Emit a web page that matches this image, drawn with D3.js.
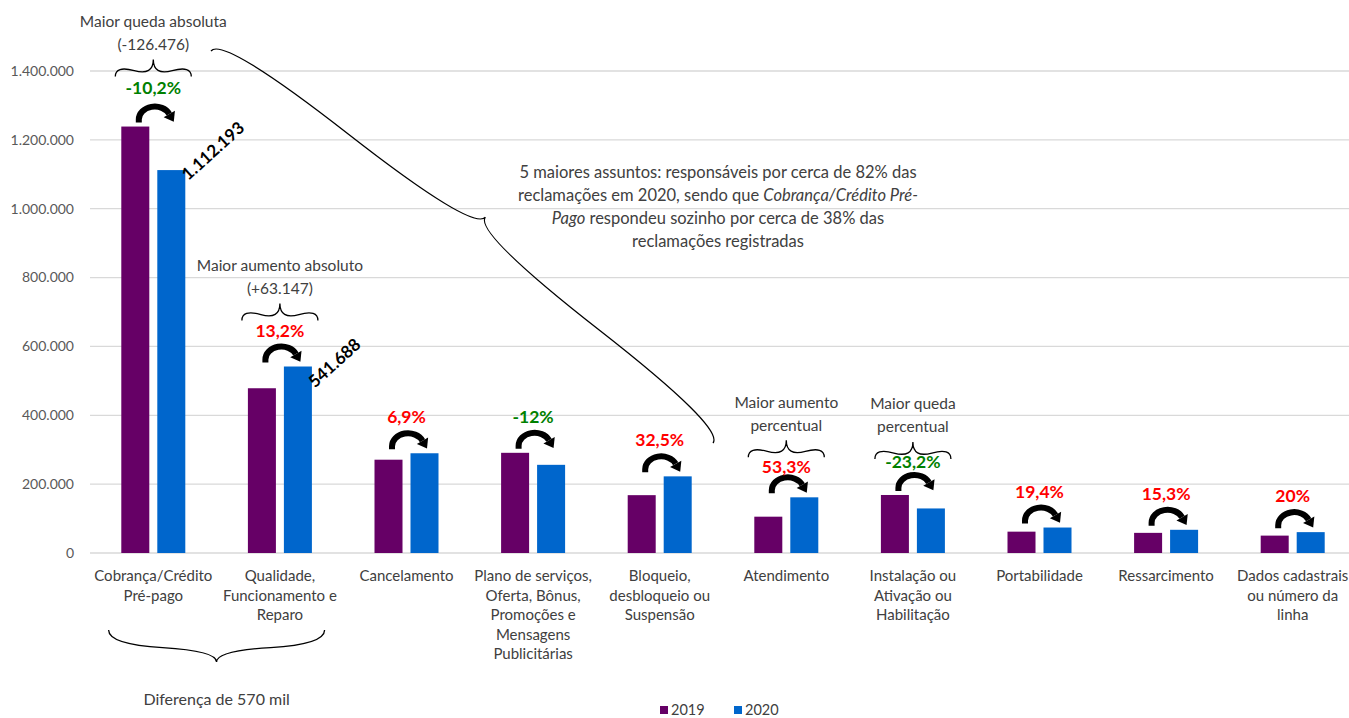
<!DOCTYPE html>
<html>
<head>
<meta charset="utf-8">
<script src="https://cdn.jsdelivr.net/npm/d3@7"></script>
<style>
  body { margin: 0; background: #fff; }
  svg { display: block; font-family: Lato, Carlito, Calibri, sans-serif; }
</style>
</head>
<body>
<div id="container"></div>
<script>
// 1. Datos

const categories = [
  "Cobrança/Crédito Pré-pago", "Qualidade, Funcionamento e Reparo", "Cancelamento",
  "Plano de serviços, Oferta, Bônus, Promoções e Mensagens Publicitárias",
  "Bloqueio, desbloqueio ou Suspensão", "Atendimento",
  "Instalação ou Ativação ou Habilitação", "Portabilidade", "Ressarcimento",
  "Dados cadastrais ou número da linha"
];
const categoryLines = [
  ["Cobrança/Crédito", "Pré-pago"],
  ["Qualidade,", "Funcionamento e", "Reparo"],
  ["Cancelamento"],
  ["Plano de serviços,", "Oferta, Bônus,", "Promoções e", "Mensagens", "Publicitárias"],
  ["Bloqueio,", "desbloqueio ou", "Suspensão"],
  ["Atendimento"],
  ["Instalação ou", "Ativação ou", "Habilitação"],
  ["Portabilidade"],
  ["Ressarcimento"],
  ["Dados cadastrais", "ou número da", "linha"]
];
const series = ["2019", "2020"];
const values2019 = [1238669, 478541, 271000, 291000, 168000, 105500, 168500, 62000, 58500, 50500];
const values2020 = [1112193, 541688, 289700, 256100, 222600, 161700, 129400, 74000, 67400, 60600];
const changeLabels = ["-10,2%", "13,2%", "6,9%", "-12%", "32,5%", "53,3%", "-23,2%", "19,4%", "15,3%", "20%"];
const yTicks = [0, 200000, 400000, 600000, 800000, 1000000, 1200000, 1400000];

// anotaciones con llave sobre la categoría (dy: ajuste fino de la llave, labelDy: del porcentaje)
const braceNotes = [
  {cat: 0, lines: ["Maior queda absoluta", "(-126.476)"], dy: -3, labelDy: -3},
  {cat: 1, lines: ["Maior aumento absoluto", "(+63.147)"], dy: 1, labelDy: 0},
  {cat: 5, lines: ["Maior aumento", "percentual"], dy: 7, labelDy: 6},
  {cat: 6, lines: ["Maior queda", "percentual"], dy: 11, labelDy: 3}
];
// etiquetas de valor giradas (serie 2020)
const valueNotes = [{cat: 0, dy: 11}, {cat: 1, dy: 22}];

const colors = {"2019": "#660066", "2020": "#0066CC"};

// 2. SVG

const WIDTH = 1349, HEIGHT = 718;
const margin = {left: 90, top: 71, bottom: 165};
const plotBottom = HEIGHT - margin.bottom;

const svg = d3.select("#container").append("svg")
  .attr("width", WIDTH).attr("height", HEIGHT);

const fmt = d3.formatLocale({decimal: ",", thousands: ".", grouping: [3], currency: ["", ""]}).format(",d");

// 3. Escalas

const xScale = d3.scaleBand().domain(categories).range([margin.left, margin.left + 1266]);
const xSub = d3.scaleBand().domain(series).range([-32, 32]).paddingInner(0.222);
const yScale = d3.scaleLinear().domain([0, 1400000]).range([plotBottom, margin.top]);

const cx = (i) => xScale(categories[i]) + xScale.bandwidth() / 2;
const val = (s, i) => (s === "2019" ? values2019 : values2020)[i];
const maxTop = (i) => yScale(Math.max(values2019[i], values2020[i]));
const labelShift = (i) => {
  const n = braceNotes.find((b) => b.cat === i);
  return n ? n.labelDy : 0;
};

// 4. Grilla y eje Y

svg.append("g").selectAll("line").data(yTicks).join("line")
  .attr("x1", margin.left).attr("x2", WIDTH)
  .attr("y1", (d) => yScale(d)).attr("y2", (d) => yScale(d))
  .attr("stroke", "#d9d9d9").attr("stroke-width", 1.3);

svg.append("g").selectAll("text").data(yTicks).join("text")
  .attr("x", 74).attr("y", (d) => yScale(d)).attr("dy", "0.35em")
  .attr("text-anchor", "end").attr("fill", "#595959").style("font-size", "14px")
  .text((d) => fmt(d));

// 5. Barras

const groups = svg.append("g").selectAll("g").data(categories).join("g")
  .attr("transform", (d, i) => `translate(${cx(i)},0)`);

groups.selectAll("rect").data((d, i) => series.map((s) => ({s, v: val(s, i)}))).join("rect")
  .attr("x", (d) => xSub(d.s)).attr("width", xSub.bandwidth())
  .attr("y", (d) => yScale(d.v)).attr("height", (d) => plotBottom - yScale(d.v))
  .attr("fill", (d) => colors[d.s]);

// 6. Etiquetas del eje X

const xLabels = svg.append("g").selectAll("text").data(categoryLines).join("text")
  .attr("text-anchor", "middle").attr("fill", "#404040").style("font-size", "15px")
  .attr("transform", (d, i) => `translate(${cx(i)},${plotBottom + 28})`);
xLabels.selectAll("tspan").data((d) => d).join("tspan")
  .attr("x", 0).attr("y", (d, j) => j * 19.5).text((d) => d);

// 7. Flechas curvas y variación porcentual

function arrowPath(c, top) {
  const rx = 16, ry = 13, ax = c + 1.5, ay = top - 7;
  const phi = 335 * Math.PI / 180;
  const ex = ax + rx * Math.cos(phi), ey = ay + ry * Math.sin(phi);
  return {
    arc: `M${ax - rx},${ay + 3}L${ax - rx},${ay}A${rx},${ry} 0 0 1 ${ex},${ey}`,
    ex, ey, phi, rx, ry
  };
}

categories.forEach((d, i) => {
  const top = maxTop(i);
  const a = arrowPath(cx(i), top);
  svg.append("path").attr("d", a.arc)
    .attr("fill", "none").attr("stroke", "#000").attr("stroke-width", 6);
  // cabeza de flecha
  let tx = -a.rx * Math.sin(a.phi), ty = a.ry * Math.cos(a.phi);
  const tl = Math.hypot(tx, ty); tx /= tl; ty /= tl;
  const nx = ty, ny = -tx;
  svg.append("path")
    .attr("d", `M${a.ex + nx * 6.5},${a.ey + ny * 6.5}L${a.ex - nx * 6.5},${a.ey - ny * 6.5}L${a.ex + tx * 9},${a.ey + ty * 9}Z`)
    .attr("fill", "#000");

  svg.append("text")
    .attr("x", cx(i)).attr("y", top - 36 + labelShift(i)).attr("dy", "0.35em")
    .attr("text-anchor", "middle").style("font-size", "17.5px").style("font-weight", "bold")
    .attr("fill", changeLabels[i].startsWith("-") ? "#008000" : "#FF0000")
    .text(changeLabels[i]);
});

// 8. Llaves

function brace(x1, y1, x2, y2, w, q) {
  let dx = x1 - x2, dy = y1 - y2;
  const len = Math.hypot(dx, dy);
  dx /= len; dy /= len;
  const qx1 = x1 + q * w * dy, qy1 = y1 - q * w * dx;
  const qx2 = (x1 - 0.25 * len * dx) + (1 - q) * w * dy, qy2 = (y1 - 0.25 * len * dy) - (1 - q) * w * dx;
  const tx1 = (x1 - 0.5 * len * dx) + w * dy, ty1 = (y1 - 0.5 * len * dy) - w * dx;
  const qx3 = x2 + q * w * dy, qy3 = y2 - q * w * dx;
  const qx4 = (x1 - 0.75 * len * dx) + (1 - q) * w * dy, qy4 = (y1 - 0.75 * len * dy) - (1 - q) * w * dx;
  return `M${x1},${y1}Q${qx1},${qy1} ${qx2},${qy2}T${tx1},${ty1}` +
         `M${x2},${y2}Q${qx3},${qy3} ${qx4},${qy4}T${tx1},${ty1}`;
}

const lineStyle = (p) => p.attr("fill", "none").attr("stroke", "#000").attr("stroke-width", 1.3);

braceNotes.forEach((n) => {
  const c = cx(n.cat);
  const yEnd = maxTop(n.cat) - 47 + n.dy;
  svg.append("path").attr("d", brace(c - 38, yEnd, c + 38, yEnd, -17, 0.65)).call(lineStyle);
  const t = svg.append("text").attr("text-anchor", "middle").attr("fill", "#404040").style("font-size", "15.5px");
  n.lines.forEach((l, j) => {
    t.append("tspan").attr("x", c).attr("y", yEnd - 32 - (n.lines.length - 1 - j) * 23).attr("dy", "0.35em").text(l);
  });
});

// llave grande diagonal hacia el texto
svg.append("path").attr("d", brace(211, 51, 713, 443, -38, 0.5)).call(lineStyle);

const note = svg.append("text").attr("text-anchor", "middle").attr("fill", "#404040").style("font-size", "16.5px");
const noteLines = [
  [["5 maiores assuntos: responsáveis por cerca de 82% das", false]],
  [["reclamações em 2020, sendo que ", false], ["Cobrança/Crédito Pré-", true]],
  [["Pago", true], [" respondeu sozinho por cerca de 38% das", false]],
  [["reclamações registradas", false]]
];
noteLines.forEach((parts, j) => {
  const line = note.append("tspan").attr("x", 718).attr("y", 172 + j * 23).attr("dy", "0.35em");
  parts.forEach(([txt, it]) => {
    line.append("tspan").style("font-style", it ? "italic" : "normal").text(txt);
  });
});

// llave inferior: diferencia entre los dos primeros asuntos
const mid01 = (cx(0) + cx(1)) / 2;
svg.append("path").attr("d", brace(mid01 - 108, 630, mid01 + 108, 630, 32, 0.45)).call(lineStyle);
svg.append("text").attr("x", mid01).attr("y", 699).attr("dy", "0.35em")
  .attr("text-anchor", "middle").attr("fill", "#404040").style("font-size", "16px")
  .text(`Diferença de ${Math.floor((values2020[0] - values2020[1]) / 1000)} mil`);

// 9. Etiquetas de valor giradas

valueNotes.forEach((n) => {
  const x = cx(n.cat) + xSub("2020") + xSub.bandwidth() + 3;
  const y = yScale(values2020[n.cat]) + n.dy;
  svg.append("text").attr("transform", `translate(${x},${y}) rotate(-42)`)
    .style("font-size", "17px").style("font-weight", "bold").attr("fill", "#000")
    .text(fmt(values2020[n.cat]));
});

// 10. Leyenda

const legend = svg.append("g").selectAll("g").data(series).join("g")
  .attr("transform", (d, i) => `translate(${660 + i * 74},710)`);
legend.append("rect").attr("x", 0).attr("y", -4).attr("width", 8).attr("height", 8)
  .attr("fill", (d) => colors[d]);
legend.append("text").attr("x", 11).attr("dy", "0.35em").attr("fill", "#404040")
  .style("font-size", "14.5px").text((d) => d);
</script>
</body>
</html>
